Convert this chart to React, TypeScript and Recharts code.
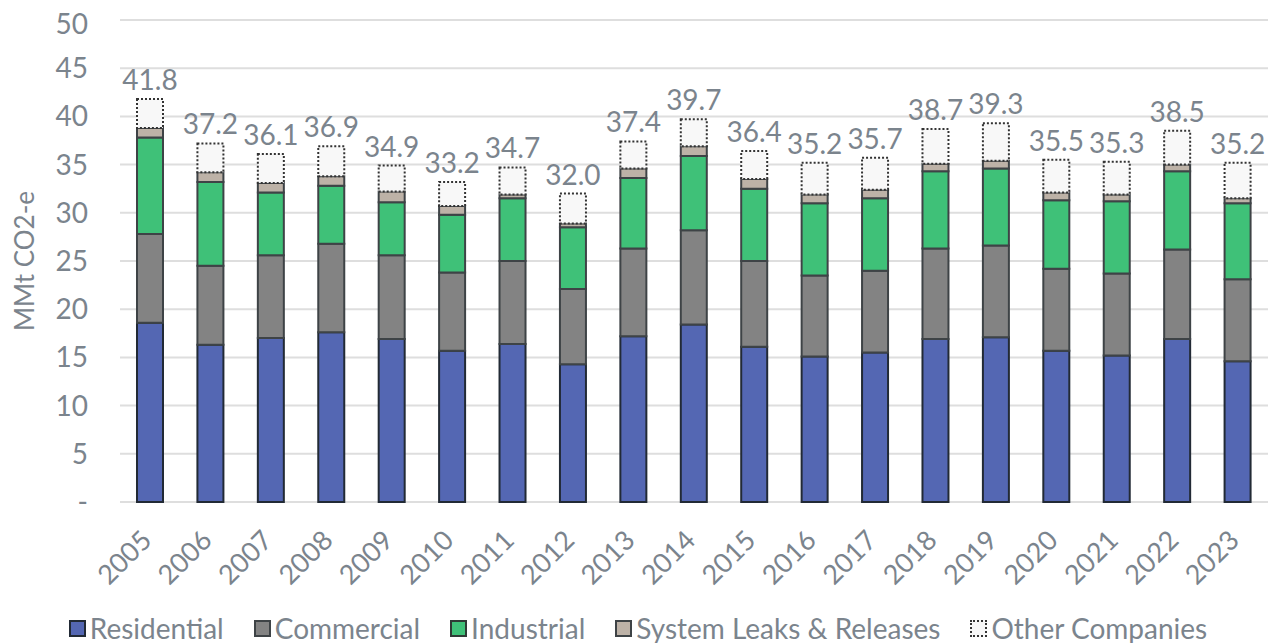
import { BarChart, Bar, XAxis, YAxis, CartesianGrid, Legend, LabelList } from "recharts";

const years = ["2005", "2006", "2007", "2008", "2009", "2010", "2011", "2012", "2013", "2014", "2015", "2016", "2017", "2018", "2019", "2020", "2021", "2022", "2023"];
const residential = [18.6, 16.3, 17.0, 17.6, 16.9, 15.7, 16.4, 14.3, 17.2, 18.4, 16.1, 15.1, 15.5, 16.9, 17.1, 15.7, 15.2, 16.9, 14.6];
const commercial = [9.2, 8.2, 8.6, 9.2, 8.7, 8.1, 8.6, 7.8, 9.1, 9.8, 8.9, 8.4, 8.5, 9.4, 9.5, 8.5, 8.5, 9.3, 8.5];
const industrial = [10.0, 8.7, 6.5, 6.0, 5.5, 6.0, 6.5, 6.4, 7.3, 7.7, 7.5, 7.5, 7.5, 8.0, 8.0, 7.1, 7.5, 8.1, 7.9];
const leaks = [1.0, 1.0, 1.0, 1.0, 1.1, 0.9, 0.4, 0.4, 1.0, 1.0, 1.0, 0.9, 0.9, 0.8, 0.8, 0.8, 0.7, 0.7, 0.5];
const other = [3.0, 3.0, 3.0, 3.1, 2.7, 2.5, 2.8, 3.1, 2.8, 2.8, 2.9, 3.3, 3.3, 3.6, 3.9, 3.4, 3.4, 3.5, 3.7];
const totals = [41.8, 37.2, 36.1, 36.9, 34.9, 33.2, 34.7, 32.0, 37.4, 39.7, 36.4, 35.2, 35.7, 38.7, 39.3, 35.5, 35.3, 38.5, 35.2];
const yTicks = [0, 5, 10, 15, 20, 25, 30, 35, 40, 45, 50];

const data = years.map((year, i) => ({
  year,
  residential: residential[i],
  commercial: commercial[i],
  industrial: industrial[i],
  leaks: leaks[i],
  other: other[i],
  total: totals[i],
}));

const textColor = "#7b848d";
const font = "Lato, 'Open Sans', sans-serif";

const legendItems = [
  { name: "Residential", fill: "#5467b3", stroke: "#222a35", dashed: false },
  { name: "Commercial", fill: "#838383", stroke: "#3e4346", dashed: false },
  { name: "Industrial", fill: "#3fc178", stroke: "#2f3a35", dashed: false },
  { name: "System Leaks & Releases", fill: "#bdb2a7", stroke: "#3e4346", dashed: false },
  { name: "Other Companies", fill: "#f8f8f8", stroke: "#333", dashed: true },
];

function YearTick({ x, y, payload }: any) {
  return (
    <g transform={`translate(${x + 3},${y + 32})`}>
      <text transform="rotate(-45)" textAnchor="end" fill={textColor} fontSize={27} fontFamily={font}>
        {payload.value}
      </text>
    </g>
  );
}

function LegendContent() {
  return (
    <div style={{ display: "flex", justifyContent: "center", gap: 30, fontFamily: font, fontSize: 28, color: textColor, lineHeight: "30px" }}>
      {legendItems.map((it) => (
        <div key={it.name} style={{ display: "flex", alignItems: "center" }}>
          <span
            style={{
              display: "inline-block",
              width: 13,
              height: 13,
              background: it.fill,
              border: `2px ${it.dashed ? "dotted" : "solid"} ${it.stroke}`,
              marginRight: 4,
            }}
          />
          {it.name}
        </div>
      ))}
    </div>
  );
}

export default function App() {
  return (
    <BarChart width={1261} height={635} data={data} margin={{ top: 12, right: 1, bottom: 0, left: 0 }} barSize={26}>
      <CartesianGrid vertical={false} stroke="#dedede" strokeWidth={2} />
      <XAxis dataKey="year" axisLine={false} tickLine={false} height={111} tick={<YearTick />} interval={0} />
      <YAxis
        width={112}
        domain={[0, 50]}
        ticks={yTicks}
        axisLine={false}
        tickLine={false}
        tickMargin={26}
        tickFormatter={(v: number) => (v === 0 ? "-" : String(v))}
        tick={{ fill: textColor, fontSize: 28, fontFamily: font }}
        label={{ value: "MMt CO2-e", angle: -90, position: "insideLeft", offset: 17, style: { textAnchor: "middle", fill: textColor, fontSize: 26, fontFamily: font } }}
      />
      <Legend verticalAlign="bottom" content={<LegendContent />} wrapperStyle={{ height: 30 }} />
      <Bar dataKey="residential" stackId="a" fill="#5467b3" stroke="#222a35" strokeWidth={2} isAnimationActive={false} />
      <Bar dataKey="commercial" stackId="a" fill="#838383" stroke="#3e4346" strokeWidth={2} isAnimationActive={false} />
      <Bar dataKey="industrial" stackId="a" fill="#3fc178" stroke="#3e4346" strokeWidth={2} isAnimationActive={false} />
      <Bar dataKey="leaks" stackId="a" fill="#bdb2a7" stroke="#3e4346" strokeWidth={2} isAnimationActive={false} />
      <Bar dataKey="other" stackId="a" fill="#f8f8f8" stroke="#333" strokeWidth={2} strokeDasharray="2 2" isAnimationActive={false}>
        <LabelList dataKey="total" position="top" offset={9} fill={textColor} fontSize={28} fontFamily={font} formatter={(v: any) => Number(v).toFixed(1)} />
      </Bar>
    </BarChart>
  );
}
